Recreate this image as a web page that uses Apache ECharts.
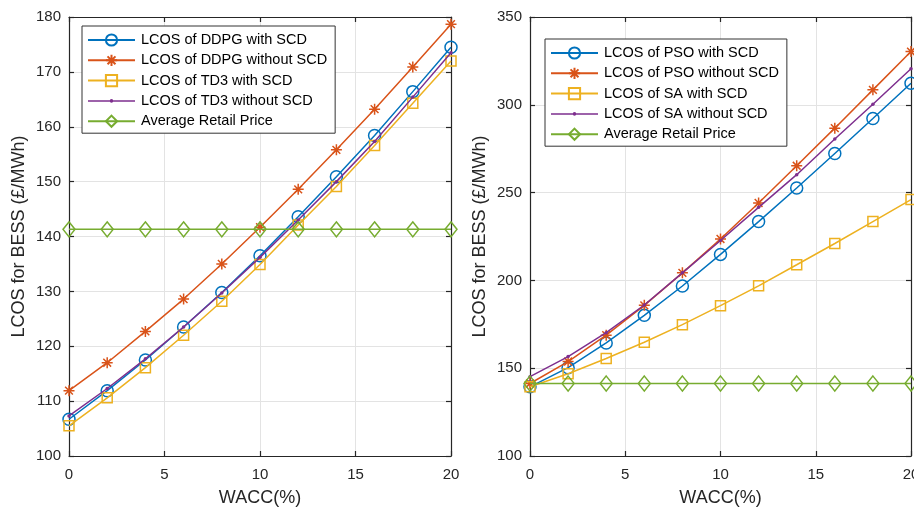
<!DOCTYPE html>
<html>
<head>
<meta charset="utf-8">
<script src="https://cdn.jsdelivr.net/npm/echarts@6/dist/echarts.min.js"></script>
<style>
html,body{margin:0;padding:0;background:#fff;}
#chart{width:914px;height:507px;}
</style>
</head>
<body>
<div id="chart"></div>
<script>
const wacc = [0, 2, 4, 6, 8, 10, 12, 14, 16, 18, 20];
const xTicks = [0, 5, 10, 15, 20];

// Left panel
const ddpgWithSCD    = [106.7, 111.9, 117.5, 123.5, 129.8, 136.5, 143.6, 150.9, 158.4, 166.4, 174.5];
const ddpgWithoutSCD = [111.9, 117.0, 122.7, 128.6, 135.0, 141.7, 148.6, 155.8, 163.2, 170.9, 178.7];
const td3WithSCD     = [105.5, 110.6, 116.1, 122.0, 128.2, 134.9, 142.1, 149.1, 156.6, 164.3, 172.0];
const td3WithoutSCD  = [107.3, 112.3, 117.7, 123.5, 129.7, 136.2, 143.0, 150.0, 157.3, 165.4, 173.5];
const retailLeft     = [141.3, 141.3, 141.3, 141.3, 141.3, 141.3, 141.3, 141.3, 141.3, 141.3, 141.3];

// Right panel
const psoWithSCD     = [139.4, 150.3, 164.4, 180.1, 196.8, 214.8, 233.5, 252.6, 272.3, 292.2, 312.3];
const psoWithoutSCD  = [141.3, 153.8, 168.8, 185.8, 204.3, 223.6, 244.1, 265.3, 286.7, 308.5, 330.3];
const saWithSCD      = [139.4, 146.8, 155.5, 164.8, 174.8, 185.6, 196.9, 208.9, 221.0, 233.5, 246.0];
const saWithoutSCD   = [145.2, 156.6, 170.2, 186.0, 204.3, 222.7, 241.6, 260.2, 280.5, 300.3, 320.5];
const retailRight    = [141.3, 141.3, 141.3, 141.3, 141.3, 141.3, 141.3, 141.3, 141.3, 141.3, 141.3];

const leftNames  = ['LCOS of DDPG with SCD', 'LCOS of DDPG without SCD', 'LCOS of TD3 with SCD', 'LCOS of TD3 without SCD', 'Average Retail Price'];
const rightNames = ['LCOS of PSO with SCD', 'LCOS of PSO without SCD', 'LCOS of SA with SCD', 'LCOS of SA without SCD', 'Average Retail Price'];

const yLabel = 'LCOS for BESS (£/MWh)';
const xLabel = 'WACC(%)';

const C = ['#0072BD', '#D95319', '#EDB120', '#7E2F8E', '#77AC30'];
const AX = '#262626';
const FONT = '"Liberation Sans", Arial, Helvetica, sans-serif';
const STAR = 'path://M0,-10L0,10M-10,0L10,0M-7.07,-7.07L7.07,7.07M-7.07,7.07L7.07,-7.07';
// legend icon for the dot-marker series: thin line with a small dot, bbox 47x14
const DOT_LINE_ICON = 'path://M0,0L0,0M47,14L47,14M0,6.25L47,6.25L47,7.75L0,7.75ZM25.3,7A1.8,1.8,0,1,1,21.7,7A1.8,1.8,0,1,1,25.3,7Z';

const markers = [
  {symbol: 'circle', size: 12, fill: 'rgba(0,0,0,0)'},
  {symbol: STAR, size: 11, fill: 'rgba(0,0,0,0)'},
  {symbol: 'rect', size: 10, fill: 'rgba(0,0,0,0)'},
  {symbol: 'circle', size: 3.5, fill: null},
  {symbol: 'diamond', size: [12, 15], fill: 'rgba(0,0,0,0)'}
];

function pairs(ys) { return wacc.map((x, i) => [x, ys[i]]); }

function mkSeries(names, arrays, axisIdx) {
  return arrays.map((arr, k) => ({
    name: names[k],
    type: 'line',
    xAxisIndex: axisIdx,
    yAxisIndex: axisIdx,
    data: pairs(arr),
    symbol: markers[k].symbol,
    symbolSize: markers[k].size,
    showAllSymbol: true,
    smooth: false,
    animation: false,
    lineStyle: {color: C[k], width: 1.5},
    itemStyle: {
      color: markers[k].fill === null ? C[k] : markers[k].fill,
      borderColor: C[k],
      borderWidth: markers[k].fill === null ? 0 : 1.5
    },
    emphasis: {disabled: true},
    z: 3 + k
  }));
}

function grid(left, right) {
  return {left: left, right: right, top: 17, bottom: 51, show: false, containLabel: false, outerBoundsMode: 'none'};
}

function xAxisMain(gi) {
  return {
    type: 'value', gridIndex: gi, min: 0, max: 20, interval: 5, position: 'bottom',
    name: xLabel, nameLocation: 'middle', nameGap: 33,
    nameTextStyle: {color: AX, fontSize: 18, fontFamily: FONT},
    axisLine: {show: true, onZero: false, lineStyle: {color: AX, width: 1.2}},
    axisTick: {show: true, inside: true, length: 5, lineStyle: {color: AX, width: 1.2}},
    axisLabel: {color: AX, fontSize: 15, fontFamily: FONT, margin: 11,
      formatter: v => xTicks.indexOf(v) >= 0 ? String(v) : ''},
    splitLine: {show: true, lineStyle: {color: '#e3e3e3', width: 1}}
  };
}
function xAxisTop(gi) {
  return {
    type: 'value', gridIndex: gi, min: 0, max: 20, interval: 5, position: 'top',
    axisLine: {show: true, onZero: false, lineStyle: {color: AX, width: 1.2}},
    axisTick: {show: true, inside: true, length: 5, lineStyle: {color: AX, width: 1.2}},
    axisLabel: {show: false}, splitLine: {show: false}
  };
}
function yAxisMain(gi, max, interval) {
  return {
    type: 'value', gridIndex: gi, min: 100, max: max, interval: interval, position: 'left',
    name: yLabel, nameLocation: 'middle', nameGap: 41, nameRotate: 90,
    nameTextStyle: {color: AX, fontSize: 18, fontFamily: FONT},
    axisLine: {show: true, onZero: false, lineStyle: {color: AX, width: 1.2}},
    axisTick: {show: true, inside: true, length: 5, lineStyle: {color: AX, width: 1.2}},
    axisLabel: {color: AX, fontSize: 15, fontFamily: FONT, margin: 8},
    splitLine: {show: true, lineStyle: {color: '#e3e3e3', width: 1}}
  };
}
function yAxisRight(gi, max, interval) {
  return {
    type: 'value', gridIndex: gi, min: 100, max: max, interval: interval, position: 'right',
    axisLine: {show: true, onZero: false, lineStyle: {color: AX, width: 1.2}},
    axisTick: {show: true, inside: true, length: 5, lineStyle: {color: AX, width: 1.2}},
    axisLabel: {show: false}, splitLine: {show: false}
  };
}

function legend(names, left, top) {
  return {
    data: names.map((n, k) => k === 3 ? {name: n, icon: DOT_LINE_ICON} : {name: n}),
    orient: 'vertical',
    left: left, top: top,
    itemWidth: 47, itemHeight: 14, itemGap: 4.3,
    padding: [6, 8, 4, 5],
    backgroundColor: '#fff',
    borderColor: '#333', borderWidth: 1, borderRadius: 0,
    selectedMode: false,
    textStyle: {color: '#000', fontSize: 14.5, fontFamily: FONT, lineHeight: 16, padding: [0, 0, 0, 1]}
  };
}

const chart = echarts.init(document.getElementById('chart'), null, {renderer: 'canvas'});
chart.setOption({
  animation: false,
  backgroundColor: '#fff',
  grid: [grid(69, 463), grid(530, 3)],
  xAxis: [xAxisMain(0), xAxisTop(0), xAxisMain(1), xAxisTop(1)],
  yAxis: [yAxisMain(0, 180, 10), yAxisRight(0, 180, 10), yAxisMain(1, 350, 50), yAxisRight(1, 350, 50)],
  legend: [legend(leftNames, 82, 26), legend(rightNames, 545, 39)],
  series: [].concat(
    mkSeries(leftNames, [ddpgWithSCD, ddpgWithoutSCD, td3WithSCD, td3WithoutSCD, retailLeft], 0),
    mkSeries(rightNames, [psoWithSCD, psoWithoutSCD, saWithSCD, saWithoutSCD, retailRight], 2)
  )
});
</script>
</body>
</html>
